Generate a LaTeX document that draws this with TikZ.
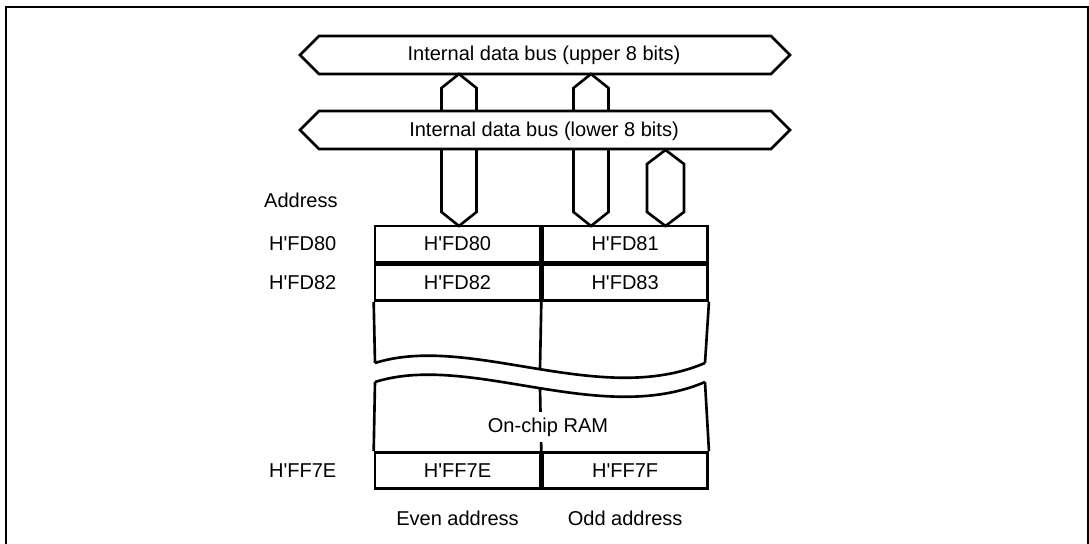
\documentclass[tikz,border=0pt]{standalone}
\usepackage{fontspec}
\setmainfont{Liberation Sans}[Ligatures=TeXOff]
\usetikzlibrary{positioning}

\begin{document}
\begin{tikzpicture}[x=0.2mm,y=-0.2mm,
    every node/.style={font=\fontsize{11.4}{13.6}\selectfont},
    busline/.style={line width=1.5pt,line join=miter},
    cell/.style={rectangle,draw,line width=1.5pt,minimum width=33mm,minimum height=7.2mm,inner sep=0pt},
    addr/.style={anchor=east,inner sep=0pt}
]
\useasboundingbox (0,0) rectangle (1089,544);

% Frame
\draw[line width=1.1pt] (6,544) -- (6,7) -- (1088,7) -- (1088,544);

% Internal data buses
\draw[busline] (300,55) -- (319,36) -- (771,36) -- (790,55) -- (771,74) -- (319,74) -- cycle;
\node (bus-hi) at (544,55) {Internal data bus (upper 8 bits)};
\draw[busline] (300,130) -- (319,111) -- (771,111) -- (790,130) -- (771,149) -- (319,149) -- cycle;
\node (bus-lo) at (544,131) {Internal data bus (lower 8 bits)};

% Upper bus to lower bus
\draw[busline] (441.5,111) -- (441.5,88) -- (459,74) -- (476.5,88) -- (476.5,111);
\draw[busline] (573.5,111) -- (573.5,88) -- (591,74) -- (608.5,88) -- (608.5,111);

% Lower bus to RAM
\draw[busline] (441.5,149) -- (441.5,212) -- (459,226) -- (476.5,212) -- (476.5,149);
\draw[busline] (573.5,149) -- (573.5,212) -- (591,226) -- (608.5,212) -- (608.5,149);
\draw[busline] (665.5,150) -- (684,164) -- (684,212) -- (665.5,226) -- (647,212) -- (647,164) -- cycle;

% RAM cells
\node[cell] (c80) at (457.5,244) {H'FD80};
\node[cell,right=0pt of c80] (c81) {H'FD81};
\node[cell,below=0pt of c80] (c82) {H'FD82};
\node[cell,below=0pt of c81] (c83) {H'FD83};
\node[cell] (cfe) at (457.5,470.5) {H'FF7E};
\node[cell,right=0pt of cfe] (cff) {H'FF7F};

% Break in the RAM
\draw[busline] (c82.south west) -- (375,363);
\draw[busline] (c83.south east) -- (705,363);
\draw[busline] (c82.south east) -- (540,369);
\draw[busline] (375,363) .. controls (470,333) and (600,408) .. (705,363);
\draw[busline] (375,382) .. controls (470,352) and (600,427) .. (705,382);
\draw[busline] (375,382) -- (cfe.north west);
\draw[busline] (705,382) -- (cff.north east);
\draw[busline] (540,388) -- (cfe.north east);
\node[fill=white,inner sep=3pt] (ram) at (548,427) {On-chip RAM};

% Addresses
\node[addr] (addr-head) at (338,200) {Address};
\node[addr,left=7.4mm of c80] (addr-80) {H'FD80};
\node[addr,left=7.4mm of c82] (addr-82) {H'FD82};
\node[addr,left=7.4mm of cfe] (addr-fe) {H'FF7E};
\node[below=3mm of cfe] (even) {Even address};
\node[below=3mm of cff] (odd) {Odd address};

\end{tikzpicture}
\end{document}
